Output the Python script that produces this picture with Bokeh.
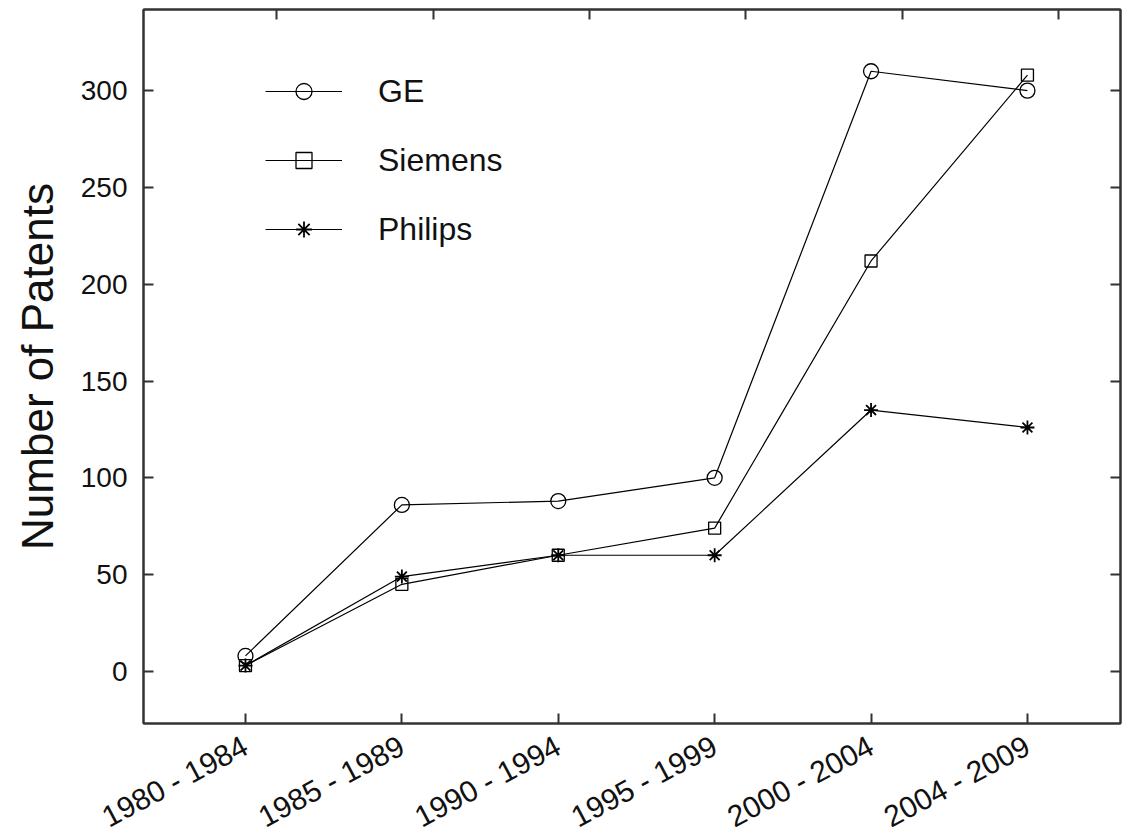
import math
from bokeh.plotting import figure
from bokeh.models import Range1d, FixedTicker, LinearAxis, Legend, LegendItem
from bokeh.embed import file_html
from bokeh.resources import INLINE

periods = ["1980 - 1984", "1985 - 1989", "1990 - 1994", "1995 - 1999", "2000 - 2004", "2004 - 2009"]
ge = [8, 86, 88, 100, 310, 300]
siemens = [3, 45, 60, 74, 212, 308]
philips = [3, 49, 60, 60, 135, 126]
y_ticks = [0, 50, 100, 150, 200, 250, 300]

x = list(range(len(periods)))
AX = "#333333"
FONT = "Liberation Sans"

p = figure(frame_width=977, frame_height=714, output_backend="svg", toolbar_location=None,
           x_range=Range1d(-0.652, 5.595), y_range=Range1d(-26.9, 341.9),
           x_axis_location=None, y_axis_location=None,
           min_border_left=143, min_border_right=5, min_border_top=9, min_border_bottom=95)
p.background_fill_color = "white"
p.border_fill_color = "white"
p.outline_line_color = AX
p.outline_line_width = 2
p.xgrid.visible = False
p.ygrid.visible = False

def style(ax):
    ax.axis_line_color = AX
    ax.axis_line_width = 2
    ax.major_tick_line_color = AX
    ax.major_tick_line_width = 2
    ax.major_tick_in = 10
    ax.major_tick_out = 0
    ax.minor_tick_line_color = None
    ax.major_label_text_font = FONT
    ax.major_label_text_color = "#111111"

# bottom axis
xb = LinearAxis(ticker=FixedTicker(ticks=x),
                major_label_overrides={i: s for i, s in enumerate(periods)})
style(xb)
xb.major_label_text_font_size = "30px"
xb.major_label_orientation = math.radians(28)
xb.major_label_standoff = 20
p.add_layout(xb, "below")

# top axis (ticks only, offset as in the original)
top_ticks = [i + 0.2 for i in x]
xt = LinearAxis(ticker=FixedTicker(ticks=top_ticks),
                major_label_overrides={t: "" for t in top_ticks})
style(xt)
xt.major_label_standoff = 0
p.add_layout(xt, "above")

# left axis
yl = LinearAxis(ticker=FixedTicker(ticks=y_ticks), axis_label="Number of Patents")
style(yl)
yl.major_label_text_font_size = "28px"
yl.major_label_standoff = 16
yl.axis_label_text_font = FONT
yl.axis_label_text_font_size = "44px"
yl.axis_label_text_font_style = "normal"
yl.axis_label_text_color = "#111111"
yl.axis_label_standoff = 16
p.add_layout(yl, "left")

# right axis (ticks only)
yr = LinearAxis(ticker=FixedTicker(ticks=y_ticks),
                major_label_overrides={t: "" for t in y_ticks})
style(yr)
yr.major_label_standoff = 0
p.add_layout(yr, "right")

items = []
l1 = p.line(x, ge, line_color="black", line_width=1.2)
s1 = p.scatter(x, ge, marker="circle", size=15, fill_color=None, line_color="black", line_width=1.3)
items.append(LegendItem(label="GE", renderers=[l1, s1]))
l2 = p.line(x, siemens, line_color="black", line_width=1.2)
s2 = p.scatter(x, siemens, marker="square", size=12, fill_color=None, line_color="black", line_width=1.3)
items.append(LegendItem(label="Siemens", renderers=[l2, s2]))
l3 = p.line(x, philips, line_color="black", line_width=1.2)
s3 = p.scatter(x, philips, marker="asterisk", size=14, line_color="black", line_width=1.8)
items.append(LegendItem(label="Philips", renderers=[l3, s3]))

leg = Legend(items=items, location=(122, 474), padding=0, margin=0,
             glyph_width=77, glyph_height=40, spacing=29, label_standoff=36,
             label_text_font=FONT, label_text_font_size="32px", label_text_color="#111111",
             border_line_color=None, background_fill_alpha=0)
p.add_layout(leg, "center")

open("out.html", "w").write(file_html(p, INLINE))
